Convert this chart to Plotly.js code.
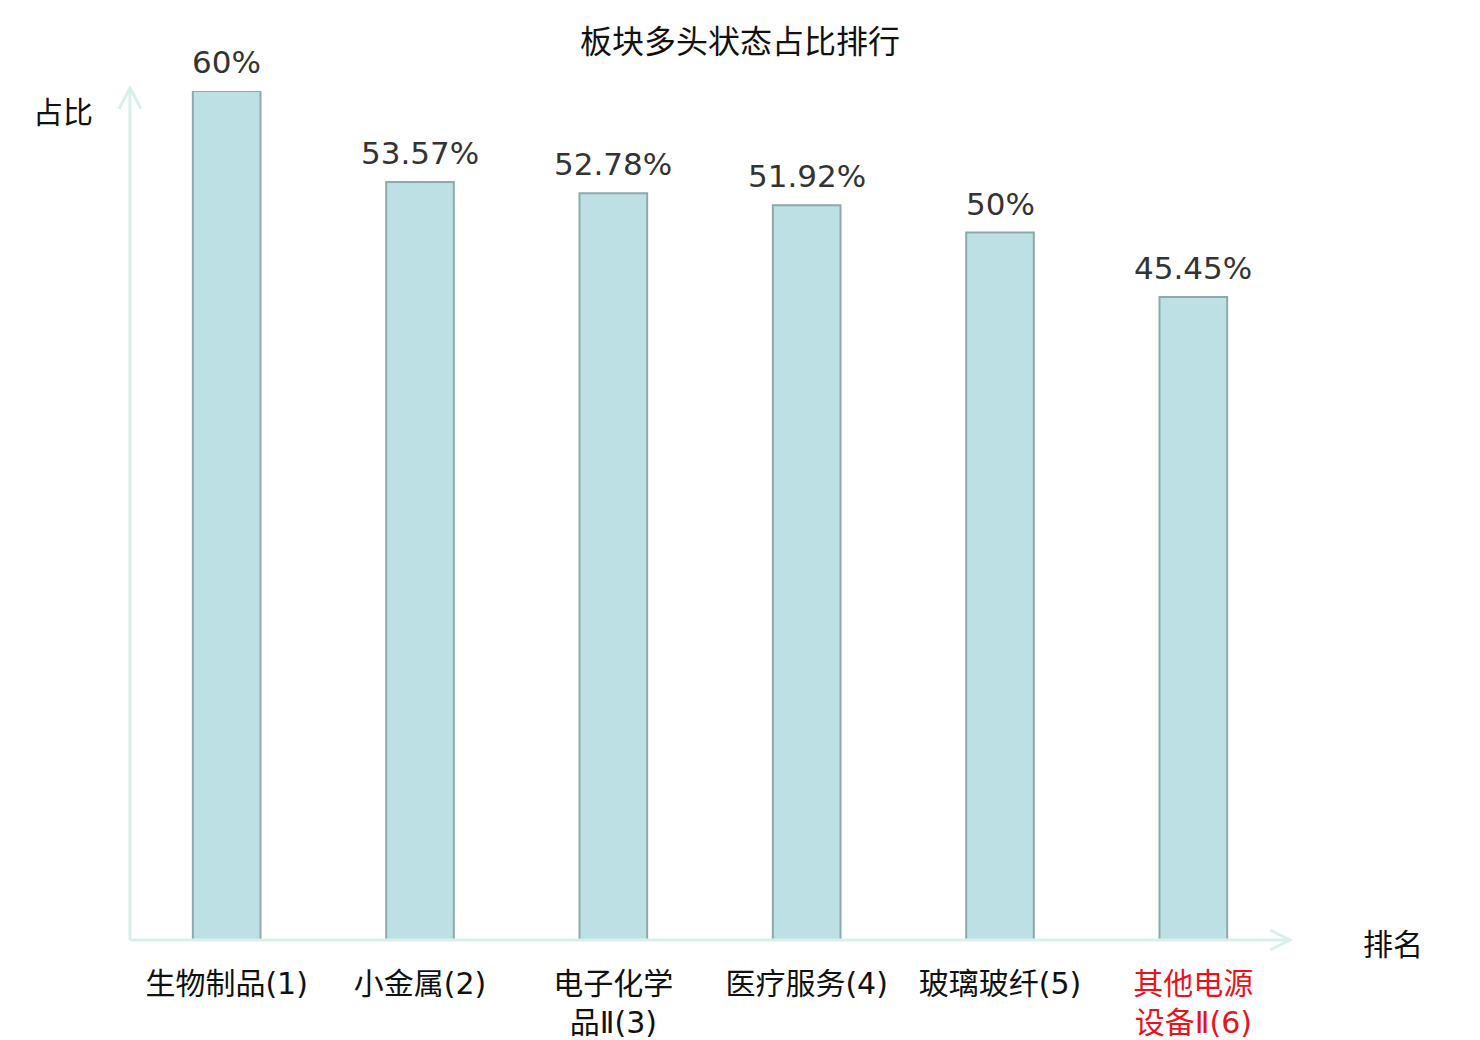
<!DOCTYPE html>
<html>
<head>
<meta charset="utf-8">
<script src="https://cdn.plot.ly/plotly-3.0.1.min.js"></script>
<style>
  html, body { margin: 0; padding: 0; background: #fff; }
  #chart { width: 1480px; height: 1040px; }
</style>
</head>
<body>
<div id="chart"></div>
<script>
// sector names, rank in brackets; the last one is the highlighted sector
var sectors = ['生物制品(1)', '小金属(2)', '电子化学<br>品Ⅱ(3)', '医疗服务(4)', '玻璃玻纤(5)', '其他电源<br>设备Ⅱ(6)'];
var share = [60, 53.57, 52.78, 51.92, 50, 45.45];
var shareLabels = ['60%', '53.57%', '52.78%', '51.92%', '50%', '45.45%'];
var labelColors = ['#111', '#111', '#111', '#111', '#111', '#e8141b'];

var font = 'DejaVu Sans, Noto Sans CJK SC, sans-serif';
var cjkFont = 'Noto Sans CJK SC, DejaVu Sans, sans-serif';
var axisColor = '#d9efec';

var xs = sectors.map(function(s, i) { return i; });
var tickText = sectors.map(function(s, i) {
    return '<span style="color:' + labelColors[i] + '">' + s + '</span>';
});

var bars = {
    x: xs,
    y: share,
    type: 'bar',
    width: 0.35,
    marker: { color: '#bce0e3', line: { color: '#8fa9aa', width: 2 } },
    hoverinfo: 'x+y'
};

// value labels above each bar
var valueNotes = share.map(function(v, i) {
    return {
        x: i, y: v, xref: 'x', yref: 'y',
        text: shareLabels[i], showarrow: false,
        xanchor: 'center', yanchor: 'bottom', yshift: 9,
        font: { family: font, size: 31, color: '#333' }
    };
});

// axis lines with open arrow heads (paper coords so they are not clipped)
var shapes = [
    { type: 'line', xref: 'paper', yref: 'paper', x0: 0, x1: 0, y0: 0, y1: 1.0035,
      line: { color: axisColor, width: 3 } },
    { type: 'path', xref: 'paper', yref: 'paper',
      path: 'M -0.0095 0.979 L 0 1.0035 L 0.0095 0.979',
      line: { color: axisColor, width: 3 } },
    { type: 'line', xref: 'paper', yref: 'paper', x0: 0, x1: 1, y0: 0, y1: 0,
      line: { color: axisColor, width: 3 } },
    { type: 'path', xref: 'paper', yref: 'paper',
      path: 'M 0.983 0.0118 L 1 0 L 0.983 -0.0118',
      line: { color: axisColor, width: 3 } }
];

var layout = {
    width: 1480,
    height: 1040,
    paper_bgcolor: '#fff',
    plot_bgcolor: '#fff',
    showlegend: false,
    margin: { l: 130, r: 190, t: 91, b: 100 },
    title: {
        text: '板块多头状态占比排行',
        font: { family: cjkFont, size: 32, color: '#111' },
        x: 0.5, xanchor: 'center',
        y: 0.96, yanchor: 'middle'
    },
    xaxis: {
        range: [-0.5, 5.5],
        tickmode: 'array',
        tickvals: xs,
        ticktext: tickText,
        ticks: '',
        ticklabelstandoff: 23,
        showgrid: false,
        zeroline: false,
        showline: false,
        tickfont: { family: font, size: 30, color: '#111' },
        fixedrange: true
    },
    yaxis: {
        range: [0, 60],
        showticklabels: false,
        ticks: '',
        showgrid: false,
        zeroline: false,
        showline: false,
        fixedrange: true
    },
    shapes: shapes,
    annotations: valueNotes.concat([
        { text: '占比', xref: 'paper', yref: 'paper', x: -0.058, y: 0.978,
          xanchor: 'center', yanchor: 'middle', showarrow: false,
          font: { family: cjkFont, size: 30, color: '#111' } },
        { text: '排名', xref: 'paper', yref: 'paper', x: 1.089, y: -0.002,
          xanchor: 'center', yanchor: 'middle', showarrow: false,
          font: { family: cjkFont, size: 30, color: '#111' } }
    ])
};

Plotly.newPlot('chart', [bars], layout, { displayModeBar: false, responsive: false });
</script>
</body>
</html>
